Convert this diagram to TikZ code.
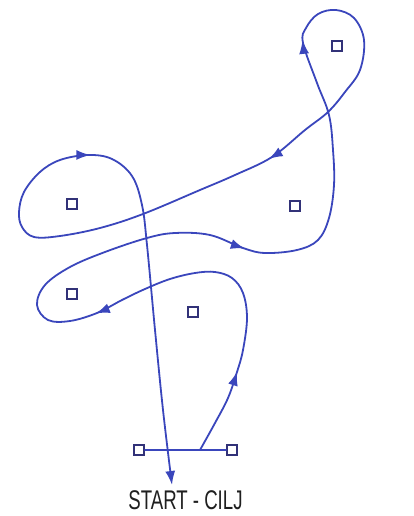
\documentclass[tikz,border=0pt]{standalone}
\usepackage{fontspec}
\usepackage{xcolor}
\usetikzlibrary{arrows.meta,decorations.markings}
\newfontfamily\labelfont{Liberation Sans}
\definecolor{routeblue}{RGB}{58,70,188}
\definecolor{ctrlnavy}{RGB}{50,50,120}

\begin{document}
\begin{tikzpicture}[x=1pt, y=-1pt]
\tikzstyle{ctrl}=[draw=ctrlnavy,rectangle,line width=2pt,minimum size=10pt,inner sep=0pt]
\tikzstyle{route}=[draw=routeblue,line width=1.8pt,line join=round,line cap=round]
\tikzstyle{routetip}=[-{Latex[length=14pt,width=10pt]}]
\useasboundingbox (0,0) rectangle (413,516);

\node[ctrl] (k1) at (337,46) {};
\node[ctrl] (k2) at (72,204) {};
\node[ctrl] (k3) at (295,206) {};
\node[ctrl] (k4) at (72,294) {};
\node[ctrl] (k5) at (193,312) {};
\node[ctrl] (s1) at (139,450) {};
\node[ctrl] (s2) at (232,450) {};
\node[font=\labelfont\fontsize{27pt}{30pt}\selectfont,text=black!88,inner sep=0pt] (label) at (185.5,500.5) {\scalebox{0.69}[1]{START - CILJ}};

\draw[route] (s1) -- (s2);
\draw[route,routetip,postaction={decorate},decoration={markings,
    mark=at position 87pt with {\arrow{Latex[length=14pt,width=10pt]}},
    mark=at position 332pt with {\arrow{Latex[length=14pt,width=10pt]}},
    mark=at position 637pt with {\arrow{Latex[length=14pt,width=10pt]}},
    mark=at position 922pt with {\arrow{Latex[length=14pt,width=10pt]}},
    mark=at position 1176pt with {\arrow{Latex[length=14pt,width=10pt]}},
    mark=at position 1558pt with {\arrow{Latex[length=14pt,width=10pt]}}}]
  plot[smooth,tension=0.6] coordinates {
    (200,450) (215,423) (228,398) (237,372) (243,350) (247,318) (243,293)
    (232,278) (215,272) (195,273) (170,279) (145,289) (122,300) (97,313)
    (70,321) (48,320) (37,305) (45,285) (70,267) (105,252) (147,238)
    (175,233) (210,235) (243,248) (265,253) (297,250) (318,240) (329,218)
    (334,185) (333,150) (329,115) (317,83) (303,43) (306,28) (318,14)
    (336,10) (354,18) (364,40) (360,70) (345,92) (328,112) (305,130)
    (272,157) (235,175) (200,190) (143,214) (100,228) (60,236) (34,237)
    (22,227) (19,212) (24,192) (40,172) (60,160) (88,155) (112,159) (132,176)
    (142,205) (147,245) (155,330) (163,410) (172,485)};
\end{tikzpicture}
\end{document}
